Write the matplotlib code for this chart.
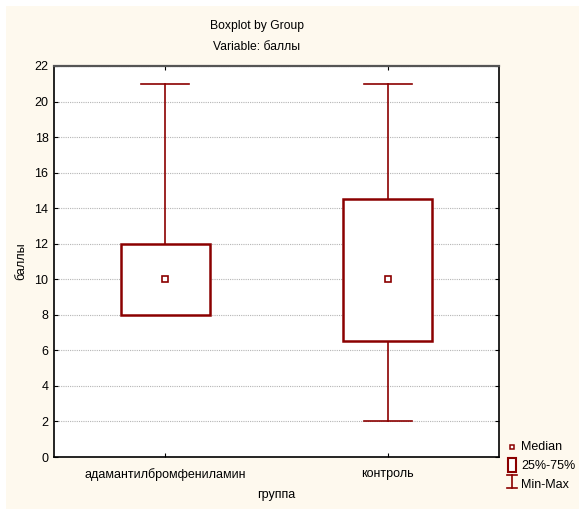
import matplotlib
matplotlib.use("Agg")
import matplotlib.pyplot as plt
from matplotlib.patches import Rectangle
from matplotlib.lines import Line2D

plt.rcParams['font.family'] = ['Liberation Sans', 'DejaVu Sans']

categories = ["адамантилбромфениламин", "контроль"]
mins = [8, 2]
q1 = [8, 6.5]
medians = [10, 10]
q3 = [12, 14.5]
maxs = [21, 21]
yticks = [0, 2, 4, 6, 8, 10, 12, 14, 16, 18, 20, 22]
legend_labels = ["Median", "25%-75%", "Min-Max"]

red = "#8B0000"
cream = "#FEF9EE"
W, H = 579, 511

fig = plt.figure(figsize=(W/100, H/100), dpi=100)
fig.patch.set_facecolor("white")

def fx(px):
    return px / W

def fy(py):
    return 1 - py / H

fig.patches.append(Rectangle((fx(6), fy(509)), fx(579) - fx(6), fy(6) - fy(509),
                             transform=fig.transFigure, facecolor=cream,
                             edgecolor="none", zorder=-10))

ax = fig.add_axes([fx(54), fy(457), fx(499) - fx(54), fy(66) - fy(457)])
ax.set_facecolor("white")

bw = 0.4
cw = 0.216
for i in range(len(categories)):
    if maxs[i] > q3[i]:
        ax.plot([i, i], [q3[i], maxs[i]], color=red, lw=1.2, zorder=3)
        ax.plot([i - cw/2, i + cw/2], [maxs[i], maxs[i]], color=red, lw=1.2, zorder=3)
    if mins[i] < q1[i]:
        ax.plot([i, i], [mins[i], q1[i]], color=red, lw=1.2, zorder=3)
        ax.plot([i - cw/2, i + cw/2], [mins[i], mins[i]], color=red, lw=1.2, zorder=3)
    ax.add_patch(Rectangle((i - bw/2, q1[i]), bw, q3[i] - q1[i], facecolor="white",
                           edgecolor=red, lw=1.8, zorder=4))
    ax.plot([i], [medians[i]], marker='s', ms=4.5, mfc="white", mec=red, mew=1.2,
            zorder=5, linestyle="none")

ax.set_xlim(-0.5, 1.5)
ax.set_ylim(0, 22)
ax.set_yticks(yticks)
ax.set_xticks(range(len(categories)))
ax.set_xticklabels(categories)
ax.yaxis.grid(True, linestyle=(0, (1, 1)), color="#b5b5b5", lw=0.8)
ax.set_axisbelow(True)
ax.tick_params(axis='both', direction='in', length=3, labelsize=9, top=True, right=True,
               color="black", pad=4)
ax.tick_params(axis='x', pad=8)
for s in ["left", "bottom", "right"]:
    ax.spines[s].set_color("black")
    ax.spines[s].set_linewidth(1.2)
ax.spines["top"].set_color("#555555")
ax.spines["top"].set_linewidth(1.6)

ax.set_ylabel("баллы", fontsize=9, labelpad=5)
ax.set_xlabel("группа", fontsize=9, labelpad=6)

fig.text(fx(257), fy(26), "Boxplot by Group", ha="center", va="center", fontsize=8.7)
fig.text(fx(257), fy(47), "Variable: баллы", ha="center", va="center", fontsize=8.7)

# legend drawn manually in figure coordinates
rows = [447, 466, 485]
fig.add_artist(Line2D([fx(511.5)], [fy(rows[0])], marker='s', ms=3.5, mfc="white",
                      mec=red, mew=1.1, linestyle="none", transform=fig.transFigure))
fig.add_artist(Rectangle((fx(507.5), fy(472)), fx(515.5) - fx(507.5), fy(458) - fy(472),
                         transform=fig.transFigure, facecolor="white", edgecolor=red, lw=1.5))
mx0, mx1, mxc = 507, 517, 512
ytop, ybot = 475, 488
for (xa, ya, xb, yb) in [(mx0, ytop, mx1, ytop), (mx0, ybot, mx1, ybot), (mxc, ytop, mxc, ybot)]:
    fig.add_artist(Line2D([fx(xa), fx(xb)], [fy(ya), fy(yb)], color=red, lw=1.2,
                          transform=fig.transFigure))
for r, lab in zip(rows, legend_labels):
    fig.text(fx(521), fy(r), lab, ha="left", va="center", fontsize=9)

fig.savefig("out.png", dpi=100, facecolor=fig.get_facecolor())
